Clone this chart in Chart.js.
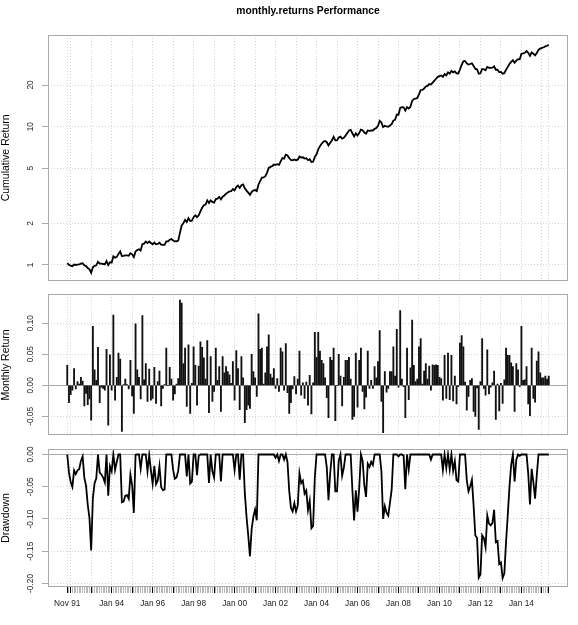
<!DOCTYPE html>
<html>
<head>
<meta charset="utf-8">
<script src="https://cdn.jsdelivr.net/npm/chart.js@4.4.1/dist/chart.umd.min.js"></script>
<style>
  body { margin: 0; background: #fff; }
  #wrap { position: relative; width: 578px; height: 625px; }
  #wrap canvas { position: absolute; left: 0; }
</style>
</head>
<body>
<div id="wrap">
  <canvas id="cumChart" width="578" height="290" style="top:0px"></canvas>
  <canvas id="retChart" width="578" height="150" style="top:290px"></canvas>
  <canvas id="ddChart" width="578" height="185" style="top:440px"></canvas>
</div>
<script>
// first month of the series: Nov 1991
const startYear = 1991;
const startMonth = 10;

const monthlyReturns = [
    0.032, -0.028, -0.015, -0.008, 0.027, -0.006, 0.006, 0.002, 0.013, 0.007,
    -0.033, -0.013, -0.031, -0.022, -0.056, 0.095, 0.025, 0.008, 0.061, -0.028,
    -0.003, -0.005, -0.008, 0.058, -0.064, 0.049, -0.008, 0.113, -0.024, 0.013,
    0.052, 0.042, -0.074, 0.001, 0.010, 0.001, -0.006, 0.040, -0.017, -0.045,
    0.099, 0.025, 0.013, -0.022, 0.112, 0.009, 0.035, -0.026, 0.026, -0.024,
    -0.021, 0.029, -0.029, 0.006, 0.023, -0.033, -0.005, 0.001, 0.060, 0.000,
    0.029, 0.010, -0.024, -0.014, 0.002, 0.011, 0.137, 0.132, 0.035, 0.060,
    -0.034, 0.065, -0.045, 0.003, 0.062, 0.032, -0.032, 0.031, 0.070,
    0.061, 0.044, 0.010, 0.072, -0.044, 0.046, -0.026, -0.010, 0.060, 0.008,
    0.030, -0.042, 0.046, 0.020, 0.030, 0.022, 0.017, 0.003, 0.038, -0.024,
    0.056, 0.027, -0.039, 0.046, 0.012, -0.060, -0.039, -0.032, -0.037, 0.050,
    0.022, 0.012, -0.018, 0.115,
    0.058, 0.060, 0.002, 0.020, 0.062, 0.081, 0.018, 0.012, 0.027, -0.005,
    0.011, -0.010, 0.060, 0.054, -0.008, 0.067,
    -0.012, -0.045, -0.028, -0.006, 0.014, -0.014, 0.010, 0.055, -0.016, 0.004,
    -0.021, 0.005, -0.032, 0.016, -0.046, 0.004, 0.085, 0.045,
    0.085, 0.055, 0.040, 0.035, 0.012, -0.020, -0.052, 0.045, 0.040, 0.060,
    -0.057, 0.000, 0.050, 0.015, -0.033, 0.013, 0.040, 0.040, 0.045, 0.010,
    -0.055, -0.050, 0.052, -0.035, 0.040, 0.060, -0.010, -0.038, -0.019, 0.055,
    -0.005, 0.008, -0.005, 0.030, 0.012, 0.038, 0.088, -0.026, -0.076, 0.022,
    -0.011, -0.005, 0.022, 0.022, 0.062, 0.015,
    0.090, -0.003, 0.120, 0.010, -0.002, -0.052, 0.060, -0.023, 0.028, 0.105,
    0.032, 0.006, 0.010, 0.062, 0.075, 0.002, 0.023, 0.035, 0.010, 0.031,
    -0.008, 0.033, 0.032, 0.033, 0.032, 0.013, 0.011, -0.024, 0.048, -0.021,
    0.052, -0.023, 0.048, -0.025, 0.015, -0.030, -0.002, 0.068, 0.080, 0.062,
    0.005,
    -0.040, -0.018, 0.008, 0.011, -0.042, -0.050, -0.004, -0.071, 0.006, 0.075,
    -0.005, -0.016, 0.057, -0.014, -0.003, 0.004, 0.023, -0.055, 0.002, -0.041,
    0.003, -0.029, 0.009, 0.060, 0.048, 0.048, 0.036, 0.030,
    -0.042, 0.035, 0.025, -0.002, 0.095, 0.008, 0.009, 0.030, -0.030, -0.049,
    0.060, -0.021, -0.027, 0.039, 0.054, 0.020, 0.012, 0.012, 0.015, 0.010,
    0.015
];

const cumTicks = [1, 2, 5, 10, 20];
const cumTickLabels = ["1", "2", "5", "10", "20"];
const retTicks = [-0.05, 0, 0.05, 0.10];
const retTickLabels = ["-0.05", "0.00", "0.05", "0.10"];
const ddTicks = [-0.20, -0.15, -0.10, -0.05, 0];
const ddTickLabels = ["-0.20", "-0.15", "-0.10", "-0.05", "0.00"];
const dateLabels = ["Nov 91", "Jan 94", "Jan 96", "Jan 98", "Jan 00", "Jan 02",
    "Jan 04", "Jan 06", "Jan 08", "Jan 10", "Jan 12", "Jan 14"];

const FONT = '"Liberation Sans", Arial, Helvetica, sans-serif';
const monthAbb = ["Jan", "Feb", "Mar", "Apr", "May", "Jun",
    "Jul", "Aug", "Sep", "Oct", "Nov", "Dec"];

const n = monthlyReturns.length;
const monthNames = [];
const majors = [];
for (let i = 0; i < n; i++) {
    const m = (startMonth + i) % 12;
    const y = startYear + Math.floor((startMonth + i) / 12);
    monthNames.push(monthAbb[m] + " " + String(y % 100).padStart(2, "0"));
    if (i === 0 || m === 0 || i === n - 1) majors.push(i);
}
const majorSet = new Set(majors);

// wealth index and drawdown from the monthly returns
let wealth = 1, peak = 1;
const cumData = [], retData = [], ddData = [];
monthlyReturns.forEach((r, i) => {
    wealth *= 1 + r;
    peak = Math.max(peak, wealth);
    cumData.push({ x: i, y: wealth });
    retData.push({ x: i, y: r });
    ddData.push({ x: i, y: wealth / peak - 1 });
});

// R style 4% padding on the time axis
const xPad = (n - 1) * 0.04;
const xMin = -xPad, xMax = n - 1 + xPad;

function sideText(axisTitle, values, labels) {
    return {
        id: 'sideText',
        afterDraw(chart) {
            const { ctx, chartArea: a, scales } = chart;
            ctx.save();
            ctx.strokeStyle = '#a9a9a9';
            ctx.lineWidth = 1;
            ctx.strokeRect(Math.round(a.left) + 0.5, Math.round(a.top) + 0.5,
                Math.round(a.right - a.left) - 1, Math.round(a.bottom - a.top) - 1);
            ctx.fillStyle = '#222';
            ctx.font = '8.3px ' + FONT;
            ctx.textAlign = 'center';
            ctx.textBaseline = 'middle';
            values.forEach((v, i) => {
                const py = scales.y.getPixelForValue(v);
                ctx.save();
                ctx.translate(31, py);
                ctx.rotate(-Math.PI / 2);
                ctx.fillText(labels[i], 0, 0);
                ctx.restore();
            });
            ctx.fillStyle = '#000';
            ctx.font = '10.5px ' + FONT;
            ctx.translate(6, (a.top + a.bottom) / 2);
            ctx.rotate(-Math.PI / 2);
            ctx.fillText(axisTitle, 0, 0);
            ctx.restore();
        }
    };
}

function timeAxis(showLabels, axisHeight) {
    return {
        type: 'linear', min: xMin, max: xMax, offset: false,
        afterBuildTicks: s => {
            s.ticks = (showLabels ? monthNames.map((_, i) => i) : majors).map(v => ({ value: v }));
        },
        afterFit: s => { s.height = axisHeight; },
        grid: {
            offset: false,
            color: c => majorSet.has(c.tick && c.tick.value) ? '#d3d3d3' : 'rgba(0,0,0,0)',
            drawTicks: showLabels,
            tickLength: 6,
            tickColor: c => majorSet.has(c.tick && c.tick.value) ? '#000' : '#b8b8b8',
            tickWidth: 1
        },
        border: { display: false, dash: [1, 2] },
        ticks: {
            display: showLabels, autoSkip: false, maxRotation: 0, minRotation: 0,
            padding: 6, color: '#222', font: { family: FONT, size: 8.3 },
            callback: v => dateLabels.includes(monthNames[v]) ? monthNames[v] : ''
        }
    };
}

function valueAxis(extra, tickValues) {
    return Object.assign({
        afterBuildTicks: s => { s.ticks = tickValues.map(v => ({ value: v })); },
        afterFit: s => { s.width = 48; },
        ticks: { display: false },
        grid: {
            color: c => (c.tick && c.tick.value === 0 && tickValues !== cumTicks) ? '#a9a9a9' : '#d3d3d3',
            drawTicks: true, tickLength: 6,
            tickColor: '#a9a9a9'
        },
        border: {
            display: false,
            dash: c => (c.tick && c.tick.value === 0 && tickValues !== cumTicks) ? [] : [1, 2]
        }
    }, extra);
}

const common = {
    responsive: false, animation: false, devicePixelRatio: 1, events: [],
    plugins: { legend: { display: false }, tooltip: { enabled: false } }
};

Chart.defaults.font.family = FONT;

new Chart(document.getElementById('cumChart'), {
    type: 'line',
    data: { datasets: [{ data: cumData, borderColor: '#000', borderWidth: 1.8, pointRadius: 0, tension: 0 }] },
    options: {
        ...common,
        layout: { padding: { top: 0, right: 10, bottom: 9.3, left: 0 } },
        plugins: {
            ...common.plugins,
            title: {
                display: true, text: 'monthly.returns Performance', fullSize: false,
                color: '#000', font: { family: FONT, size: 10.3, weight: 'bold' },
                padding: { top: 5, bottom: 17.6 }
            }
        },
        scales: {
            x: timeAxis(false, 0),
            y: valueAxis({ type: 'logarithmic', min: 0.77, max: 46 }, cumTicks)
        }
    },
    plugins: [sideText('Cumulative Return', cumTicks, cumTickLabels)]
});

new Chart(document.getElementById('retChart'), {
    type: 'bar',
    data: { datasets: [{ data: retData, backgroundColor: '#111', barThickness: 1.2, grouped: false }] },
    options: {
        ...common,
        layout: { padding: { top: 4.3, right: 10, bottom: 4.3, left: 0 } },
        scales: {
            x: timeAxis(false, 0),
            y: valueAxis({ type: 'linear', min: -0.081, max: 0.1463 }, retTicks)
        }
    },
    plugins: [sideText('Monthly Return', retTicks, retTickLabels)]
});

new Chart(document.getElementById('ddChart'), {
    type: 'line',
    data: { datasets: [{ data: ddData, borderColor: '#000', borderWidth: 1.8, pointRadius: 0, tension: 0 }] },
    options: {
        ...common,
        layout: { padding: { top: 9, right: 10, bottom: 0, left: 0 } },
        scales: {
            x: timeAxis(true, 38),
            y: valueAxis({ type: 'linear', min: -0.2055, max: 0.0085 }, ddTicks)
        }
    },
    plugins: [sideText('Drawdown', ddTicks, ddTickLabels)]
});
</script>
</body>
</html>
